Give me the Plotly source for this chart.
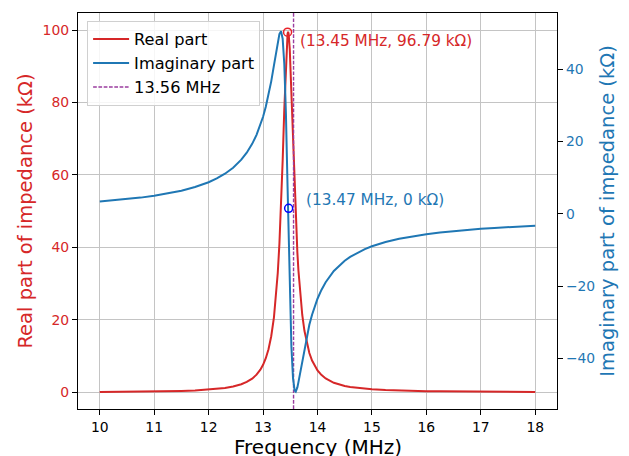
import plotly.graph_objects as go

# Frequency samples (MHz)
freq = [10.0, 10.25, 10.5, 10.75, 11.0, 11.25, 11.5, 11.75, 12.0, 12.15, 12.3, 12.45, 12.6, 12.7,
        12.8, 12.88, 12.95, 13.0, 13.05, 13.1, 13.15, 13.2, 13.25, 13.27, 13.3, 13.33, 13.36,
        13.39, 13.42, 13.45, 13.46, 13.47, 13.49, 13.52, 13.55, 13.58, 13.6, 13.63, 13.65, 13.67,
        13.69, 13.72, 13.76, 13.8, 13.85, 13.9, 13.95, 14.0, 14.07, 14.15, 14.3, 14.4, 14.5, 14.6,
        14.75, 14.87, 15.0, 15.25, 15.5, 15.75, 16.0, 16.25, 16.5, 16.75, 17.0, 17.25, 17.5,
        17.75, 18.0]

# Real part of impedance (kOhm)
real_part = [0.11, 0.13, 0.16, 0.19, 0.24, 0.31, 0.40, 0.53, 0.75, 0.94, 1.21, 1.61, 2.23, 2.86,
             3.78, 4.88, 6.25, 7.60, 9.41, 11.91, 15.48, 20.70, 28.65, 32.93, 40.95, 51.24, 63.93,
             78.22, 91.41, 98.96, 99.5, 98.96, 94.81, 83.05, 68.90, 55.63, 48.06, 38.64, 33.56, 29.30,
             25.70, 21.35, 16.98, 13.77, 10.86, 8.77, 7.22, 6.04, 4.82, 3.83, 2.64, 2.13, 1.76, 1.48,
             1.17, 0.99, 0.84, 0.63, 0.49, 0.40, 0.33, 0.28, 0.24, 0.20, 0.18, 0.16, 0.14,
             0.13, 0.11]

# Imaginary part of impedance (kOhm)
imag_part = [3.35, 3.66, 4.02, 4.45, 4.96, 5.58, 6.37, 7.37, 8.71, 9.75, 11.06, 12.73, 14.94, 16.87,
             19.32, 21.80, 24.50, 26.82, 29.56, 32.79, 36.60, 41.00, 45.73, 47.52, 49.70, 50.48, 48.40,
             41.40, 27.60, 7.43, 0.0, -7.25, -20.88, -36.59, -45.46, -48.91, -49.22, -48.02, -46.57, -44.91,
             -43.12, -40.44, -37.06, -34.02, -30.72, -27.92, -25.55, -23.51, -21.14, -18.94, -15.83, -14.27, -12.99, -11.92,
             -10.62, -9.77, -9.00, -7.82, -6.92, -6.22, -5.65, -5.18, -4.79, -4.46, -4.17, -3.92, -3.70,
             -3.51, -3.34]

# Highlighted points
peak_f = [13.45]
peak_re = [99.4]
peak_label = "(13.45 MHz, 96.79 kΩ)"
zero_f = [13.47]
zero_im = [1.5]
zero_label = "(13.47 MHz, 0 kΩ)"
marker_freq = 13.56

x_ticks = [10, 11, 12, 13, 14, 15, 16, 17, 18]
y1_ticks = [0, 20, 40, 60, 80, 100]
y2_ticks = [-40, -20, 0, 20, 40]

RED = "#d62728"
BLUE = "#1f77b4"
FONT = "DejaVu Sans"
Y1_RANGE = [-4.6, 104.7]
Y2_RANGE = [-54.0, 55.5]

fig = go.Figure()
fig.add_trace(go.Scatter(x=freq, y=real_part, mode="lines", name="Real part",
                         line=dict(color=RED, width=2), yaxis="y"))
fig.add_trace(go.Scatter(x=freq, y=imag_part, mode="lines", name="Imaginary part",
                         line=dict(color=BLUE, width=2), yaxis="y2"))
fig.add_trace(go.Scatter(x=[marker_freq, marker_freq], y=Y1_RANGE, mode="lines",
                         name="13.56 MHz",
                         line=dict(color="#9a3d9f", width=1.4, dash="3.7px,1.6px"), yaxis="y"))
fig.add_trace(go.Scatter(x=peak_f, y=peak_re, mode="markers", showlegend=False,
                         marker=dict(symbol="circle-open", size=8, color="#e8232a",
                                     line=dict(width=1.5)), yaxis="y"))
fig.add_trace(go.Scatter(x=zero_f, y=zero_im, mode="markers", showlegend=False,
                         marker=dict(symbol="circle-open", size=8, color="#0000ff",
                                     line=dict(width=1.5)), yaxis="y2"))

fig.add_annotation(x=peak_f[0], y=peak_re[0], xref="x", yref="y", text=peak_label,
                   showarrow=False, xanchor="left", yanchor="middle", xshift=10, yshift=-9,
                   font=dict(family=FONT, size=15.3, color=RED))
fig.add_annotation(x=zero_f[0], y=zero_im[0], xref="x", yref="y2", text=zero_label,
                   showarrow=False, xanchor="left", yanchor="middle", xshift=15, yshift=8,
                   font=dict(family=FONT, size=15.3, color=BLUE))
# x-axis title (placed as in the reference, partly below the page edge)
fig.add_annotation(x=0.5, y=-0.096, xref="paper", yref="paper", text="Frequency (MHz)",
                   showarrow=False, xanchor="center", yanchor="middle",
                   font=dict(family=FONT, size=20, color="black"))

axis_common = dict(showline=True, linecolor="black", linewidth=1.2, ticks="outside",
                   ticklen=5, tickcolor="black", tickwidth=1, zeroline=False)

# page body has an 8px margin, so the figure is 8px smaller and shifted
fig.update_layout(
    width=621, height=448,
    margin=dict(l=70, r=72, t=5, b=47),
    paper_bgcolor="white", plot_bgcolor="white",
    font=dict(family=FONT, size=13.9, color="black"),
    xaxis=dict(range=[9.6, 18.4], tickvals=x_ticks, mirror=True,
               showgrid=True, gridcolor="#c4c4c4", gridwidth=1,
               tickfont=dict(size=13.9, color="black"), automargin=False, **axis_common),
    yaxis=dict(range=Y1_RANGE, tickvals=y1_ticks, mirror=False,
               showgrid=True, gridcolor="#c4c4c4", gridwidth=1,
               title=dict(text="Real part of impedance (kΩ)", font=dict(size=19.5, color=RED), standoff=4),
               tickfont=dict(size=13.9, color=RED), automargin=False, **axis_common),
    yaxis2=dict(range=Y2_RANGE, tickvals=y2_ticks, overlaying="y", side="right",
                showgrid=False,
                title=dict(text="Imaginary part of impedance (kΩ)", font=dict(size=19.5, color=BLUE), standoff=6),
                tickfont=dict(size=13.9, color=BLUE), automargin=False, **axis_common),
    legend=dict(x=0.019, y=0.98, xanchor="left", yanchor="top",
                bgcolor="rgba(255,255,255,0.85)", bordercolor="#d0d0d0", borderwidth=1,
                itemwidth=36,
                font=dict(family=FONT, size=16.2, color="black"), tracegroupgap=2),
    showlegend=True,
)

fig.write_html("out.html")
